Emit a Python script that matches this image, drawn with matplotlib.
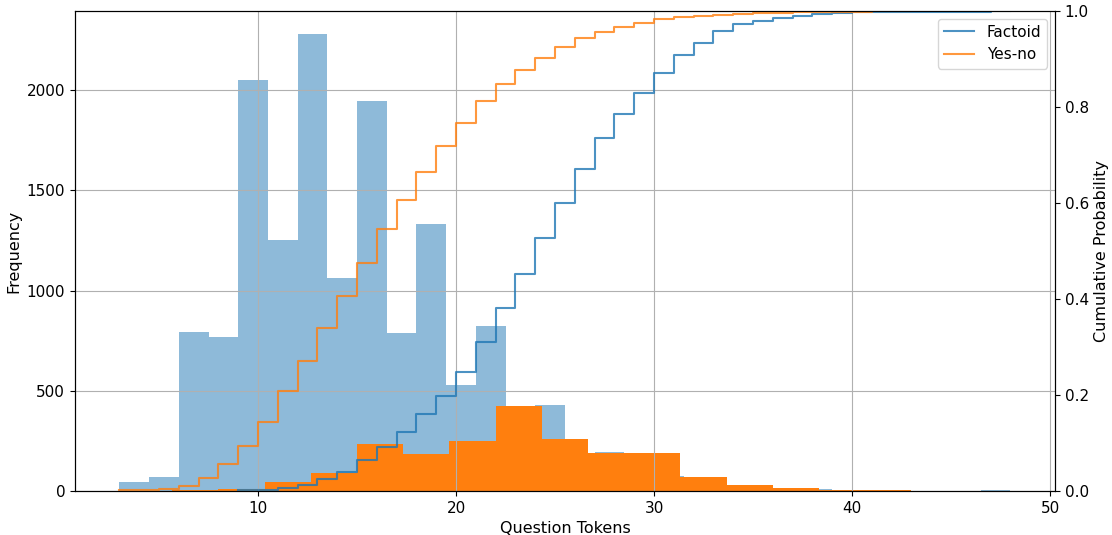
import numpy as np
import matplotlib
matplotlib.use("Agg")
import matplotlib.pyplot as plt

# histogram of question length, factoid (30 bins over 3..48)
fact_edges = np.linspace(3, 48, 31)
fact_counts = [43, 68, 795, 770, 2050, 1252, 2278, 1061, 1944, 788,
               1332, 527, 821, 380, 430, 180, 193, 150, 75, 55,
               28, 22, 12, 8, 3, 2, 1, 1, 0, 3]

# yes-no (18 bins over 1..43)
yn_edges = np.linspace(1, 43, 19)
yn_counts = [0, 1, 3, 10, 43, 91, 236, 186, 249, 425,
             258, 188, 188, 68, 30, 17, 4, 3]

# cumulative probability, one step per token
fact_cx = np.arange(9, 49)
fact_cum = [0.002, 0.002, 0.0056, 0.0125, 0.025, 0.040, 0.065, 0.091, 0.122, 0.160,
            0.197, 0.249, 0.310, 0.382, 0.453, 0.527, 0.601, 0.671, 0.735, 0.785,
            0.829, 0.870, 0.909, 0.933, 0.958, 0.972, 0.980, 0.985, 0.990, 0.993,
            0.995, 0.997, 0.998, 0.998, 0.999, 0.999, 0.999, 0.999, 1.0, 1.0]

yn_cx = np.arange(3, 44)
yn_cum = [0.002, 0.002, 0.004, 0.010, 0.027, 0.056, 0.094, 0.144, 0.208, 0.271,
          0.339, 0.407, 0.476, 0.545, 0.606, 0.665, 0.719, 0.767, 0.813, 0.849,
          0.877, 0.902, 0.926, 0.943, 0.956, 0.967, 0.976, 0.983, 0.987, 0.990,
          0.992, 0.994, 0.995, 0.996, 0.997, 0.998, 0.999, 0.999, 1.0, 1.0, 1.0]

plt.rcParams['font.size'] = 11

fig, ax = plt.subplots(figsize=(11.12, 5.35), dpi=100)
fig.subplots_adjust(left=0.0674, right=0.9487, top=0.9794, bottom=0.0822)

ax.hist(fact_edges[:-1], bins=fact_edges, weights=fact_counts, color='C0', alpha=0.5)
ax.hist(yn_edges[:-1], bins=yn_edges, weights=yn_counts, color='C1')
ax.set_xlim(0.75, 50.25)
ax.set_ylim(0, 2394)
ax.set_xticks([10, 20, 30, 40, 50])
ax.grid(True)
ax.set_xlabel("Question Tokens", fontsize=11.5)
ax.set_ylabel("Frequency", fontsize=11.5)

ax2 = ax.twinx()
ax2.step(fact_cx, fact_cum, where='post', color='C0', alpha=0.8, lw=1.5, label='Factoid')
ax2.step(yn_cx, yn_cum, where='post', color='C1', alpha=0.8, lw=1.5, label='Yes-no')
ax2.set_ylim(0, 1.0)
ax2.set_ylabel("Cumulative Probability", fontsize=11.5)
ax2.legend(loc='upper right')

plt.savefig("out.png")
